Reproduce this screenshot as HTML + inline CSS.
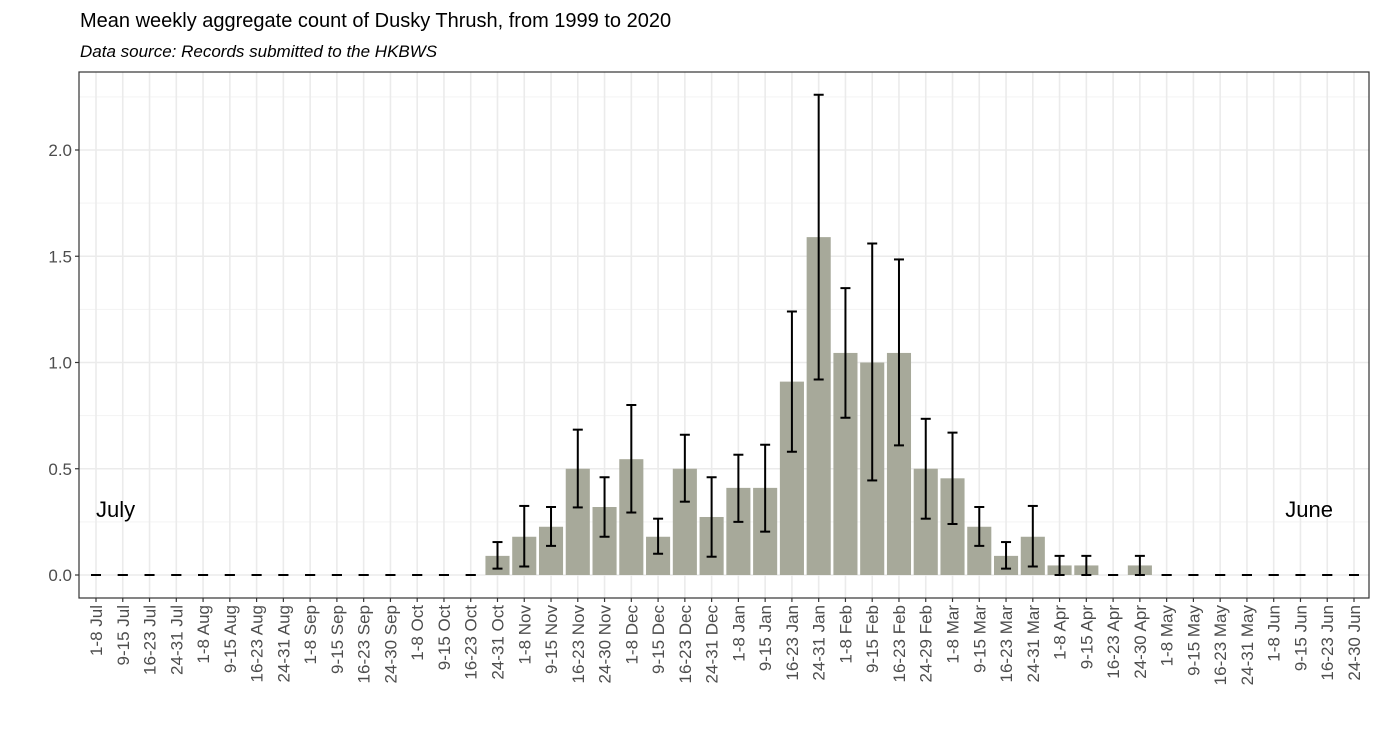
<!DOCTYPE html>
<html><head><meta charset="utf-8"><style>
body{margin:0;background:#fff;width:1380px;height:751px;overflow:hidden;font-family:"Liberation Sans",sans-serif}
</style></head><body>
<svg id="c" width="1380" height="751" xmlns="http://www.w3.org/2000/svg">
<text x="80" y="27" font-size="20" fill="#000">Mean weekly aggregate count of Dusky Thrush, from 1999 to 2020</text>
<text x="80" y="57" font-size="17" font-style="italic" fill="#000">Data source: Records submitted to the HKBWS</text>
</svg>
<script>
const categories=["1-8 Jul","9-15 Jul","16-23 Jul","24-31 Jul","1-8 Aug","9-15 Aug","16-23 Aug","24-31 Aug","1-8 Sep","9-15 Sep","16-23 Sep","24-30 Sep","1-8 Oct","9-15 Oct","16-23 Oct","24-31 Oct","1-8 Nov","9-15 Nov","16-23 Nov","24-30 Nov","1-8 Dec","9-15 Dec","16-23 Dec","24-31 Dec","1-8 Jan","9-15 Jan","16-23 Jan","24-31 Jan","1-8 Feb","9-15 Feb","16-23 Feb","24-29 Feb","1-8 Mar","9-15 Mar","16-23 Mar","24-31 Mar","1-8 Apr","9-15 Apr","16-23 Apr","24-30 Apr","1-8 May","9-15 May","16-23 May","24-31 May","1-8 Jun","9-15 Jun","16-23 Jun","24-30 Jun"];
const means=[0,0,0,0,0,0,0,0,0,0,0,0,0,0,0,0.09,0.18,0.227,0.5,0.32,0.545,0.18,0.5,0.273,0.41,0.41,0.91,1.59,1.045,1.0,1.045,0.5,0.455,0.227,0.09,0.18,0.045,0.045,0,0.045,0,0,0,0,0,0,0,0];
const upper=[0,0,0,0,0,0,0,0,0,0,0,0,0,0,0,0.155,0.325,0.32,0.684,0.46,0.8,0.265,0.66,0.46,0.566,0.613,1.24,2.26,1.35,1.56,1.485,0.735,0.67,0.32,0.155,0.325,0.09,0.09,0,0.09,0,0,0,0,0,0,0,0];
const lower=[0,0,0,0,0,0,0,0,0,0,0,0,0,0,0,0.03,0.04,0.137,0.318,0.18,0.294,0.1,0.345,0.086,0.25,0.204,0.58,0.92,0.74,0.445,0.61,0.265,0.24,0.137,0.03,0.04,0,0,0,0,0,0,0,0,0,0,0,0];
const yTicks=[0,0.5,1,1.5,2];
const yTickLabels=["0.0","0.5","1.0","1.5","2.0"];
const svg=document.getElementById('c');const NS="http://www.w3.org/2000/svg";
const L=79,R=1369,T=72,B=598,x0=96,step=(1354-96)/47,y0=575,k=212.5;
const X=i=>x0+i*step, Y=v=>y0-v*k;
function mk(t,a,p){const e=document.createElementNS(NS,t);for(const q in a)e.setAttribute(q,a[q]);(p||svg).appendChild(e);return e;}
const g=mk('g',{});


for(let v=0.25;v<2.3;v+=0.5){mk('line',{x1:L,x2:R,y1:Y(v),y2:Y(v),stroke:'#f3f3f3','stroke-width':1},g);}
yTicks.forEach(v=>mk('line',{x1:L,x2:R,y1:Y(v),y2:Y(v),stroke:'#ebebeb','stroke-width':1.6},g));
categories.forEach((c,i)=>mk('line',{x1:X(i),x2:X(i),y1:T,y2:B,stroke:'#ebebeb','stroke-width':1.6},g));
means.forEach((v,i)=>{if(v>0){const b=mk('rect',{x:X(i)-step*0.45,y:Y(v),width:step*0.9,height:v*k,fill:'#a7a99a'});

}});
means.forEach((v,i)=>{const e=mk('g',{stroke:'#000','stroke-width':2});


const w=5;mk('line',{x1:X(i),x2:X(i),y1:Y(upper[i]),y2:Y(lower[i])},e);
mk('line',{x1:X(i)-w,x2:X(i)+w,y1:Y(upper[i]),y2:Y(upper[i])},e);
mk('line',{x1:X(i)-w,x2:X(i)+w,y1:Y(lower[i]),y2:Y(lower[i])},e);});
const fr=mk('rect',{x:L,y:T,width:R-L,height:B-T,fill:'none',stroke:'#333','stroke-width':1.2});


yTicks.forEach((v,i)=>{mk('line',{x1:L-4,x2:L,y1:Y(v),y2:Y(v),stroke:'#333','stroke-width':1.2});
const t=mk('text',{x:L-7,y:Y(v)+6,'text-anchor':'end','font-size':17,fill:'#4d4d4d'});t.textContent=yTickLabels[i];

});
categories.forEach((c,i)=>{mk('line',{x1:X(i),x2:X(i),y1:B,y2:B+4,stroke:'#333','stroke-width':1.2});
const t=mk('text',{transform:`translate(${X(i)+6},${B+7}) rotate(-90)`,'text-anchor':'end','font-size':17,fill:'#4d4d4d'});t.textContent=c;

});
const a=mk('text',{x:96,y:517,'font-size':22,fill:'#000'});a.textContent='July';


const b=mk('text',{x:1333,y:517,'font-size':22,fill:'#000','text-anchor':'end'});b.textContent='June';


</script>
</body></html>
